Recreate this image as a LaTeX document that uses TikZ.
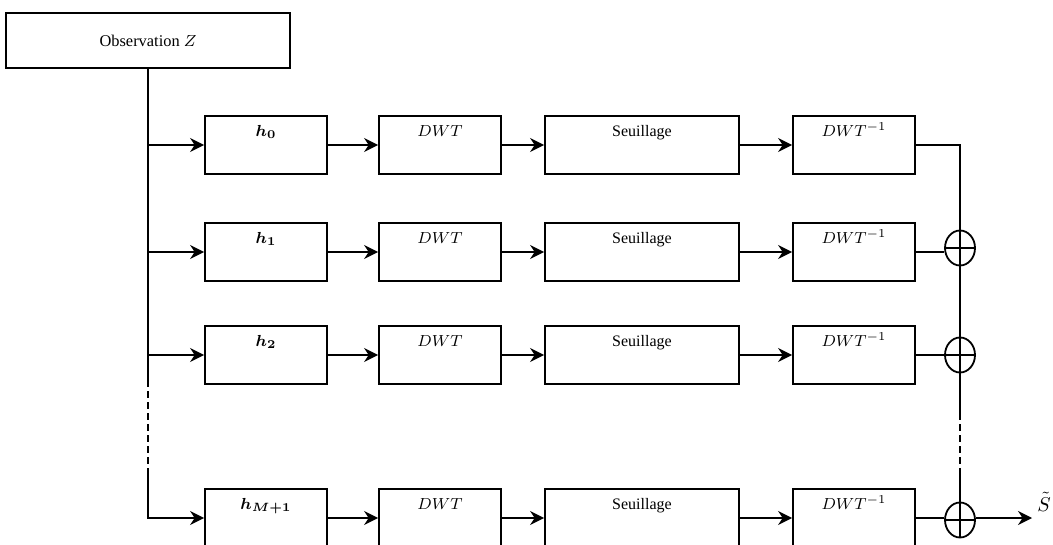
\documentclass[tikz,border=0pt]{standalone}
\usepackage{amsmath}
\usepackage{fontspec}
\setmainfont{Liberation Serif}
\usetikzlibrary{arrows.meta, shapes.geometric}
\tikzset{
  obsbox/.style={draw, line width=0.9pt, minimum width=142pt, minimum height=27.5pt, font=\fontsize{8.2}{10}\selectfont},
  blk/.style={draw, line width=0.9pt, minimum width=61pt, minimum height=29pt, inner sep=0pt,
    label={[anchor=base, yshift=-10.5pt, inner sep=0pt, font=\fontsize{8}{9}\selectfont]north:#1}},
  wide/.style={blk=#1, minimum width=97pt},
  adder/.style={draw, ellipse, line width=0.9pt, minimum width=15pt, minimum height=17.5pt, inner sep=0pt,
    path picture={\draw[line width=0.9pt] (path picture bounding box.north) -- (path picture bounding box.south)
      (path picture bounding box.west) -- (path picture bounding box.east);}},
  arr/.style={-{Stealth[length=7pt, width=7pt]}, line width=0.9pt},
  wire/.style={line width=0.9pt},
  dsh/.style={line width=0.9pt, dash pattern=on 3.5pt off 2pt},
}
\begin{document}
\begin{tikzpicture}[x=0.5pt, y=-0.5pt]
  \useasboundingbox (0,0) rectangle (1053,545);

  \node[obsbox] (obs) at (148,40.5) {Observation $Z$};

  % branches
  \node[blk=$\boldsymbol{h_0}$] (h0) at (266,145) {};
  \node[blk=$DWT$] (dwt0) at (440,145) {};
  \node[wide=Seuillage] (seuil0) at (642,145) {};
  \node[blk=$DWT^{-1}$] (idwt0) at (854,145) {};

  \node[blk=$\boldsymbol{h_1}$] (h1) at (266,252) {};
  \node[blk=$DWT$] (dwt1) at (440,252) {};
  \node[wide=Seuillage] (seuil1) at (642,252) {};
  \node[blk=$DWT^{-1}$] (idwt1) at (854,252) {};

  \node[blk=$\boldsymbol{h_2}$] (h2) at (266,355) {};
  \node[blk=$DWT$] (dwt2) at (440,355) {};
  \node[wide=Seuillage] (seuil2) at (642,355) {};
  \node[blk=$DWT^{-1}$] (idwt2) at (854,355) {};

  \node[blk=$\boldsymbol{h_{M+1}}$] (hM) at (266,518) {};
  \node[blk=$DWT$] (dwtM) at (440,518) {};
  \node[wide=Seuillage] (seuilM) at (642,518) {};
  \node[blk=$DWT^{-1}$] (idwtM) at (854,518) {};

  % adders
  \node[adder] (s1) at (960,248) {};
  \node[adder] (s2) at (960,355) {};
  \node[adder] (s3) at (960,520) {};

  % left trunk
  \coordinate (lt) at (148,380);
  \coordinate (lb) at (148,473);
  \draw[wire] (obs.south) -- (lt);
  \draw[dsh] (lt) -- (lb);
  \draw[arr] (lb) |- (hM.west);
  \foreach \r in {0,1,2}
    \draw[arr] (obs.south |- h\r.west) -- (h\r.west);

  % chains
  \foreach \r in {0,1,2,M} {
    \draw[arr] (h\r) -- (dwt\r);
    \draw[arr] (dwt\r) -- (seuil\r);
    \draw[arr] (seuil\r) -- (idwt\r);
  }

  % right trunk
  \draw[wire] (idwt0.east) -| (s1.north);
  \draw[wire] (idwt1.east) -- (idwt1.east -| s1.west);
  \draw[wire] (idwt2.east) -- (s2.west);
  \draw[wire] (idwtM.east) -- (idwtM.east -| s3.west);
  \draw[wire] (s1.south) -- (s2.north);
  \coordinate (rt) at (960,413);
  \coordinate (rb) at (960,475);
  \draw[wire] (s2.south) -- (rt);
  \draw[dsh] (rt) -- (rb);
  \draw[wire] (rb) -- (s3.north);
  \coordinate (out) at (1032,518);
  \draw[arr] (s3.east |- out) -- (out);
  \node[anchor=base west, inner sep=0pt] (stil) at (1037,511) {$\tilde{S}$};
\end{tikzpicture}
\end{document}
